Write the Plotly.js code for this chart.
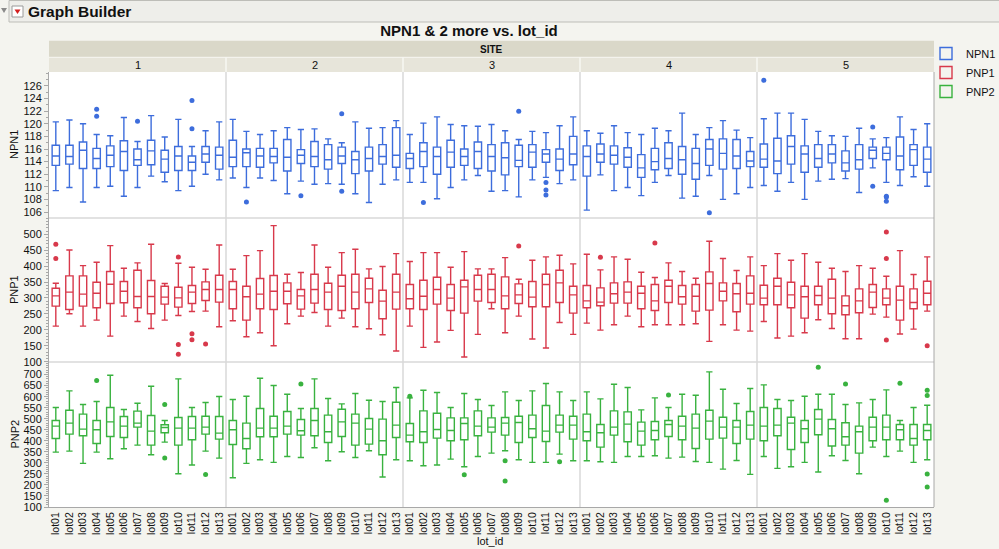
<!DOCTYPE html>
<html><head><meta charset="utf-8">
<script src="https://cdn.plot.ly/plotly-3.0.1.min.js"></script>
<style>html,body{margin:0;padding:0;background:#f4f4ef;} #chart{width:999px;height:549px;}</style>
</head><body><div id="chart"></div>
<script>
const lots = ['lot01','lot02','lot03','lot04','lot05','lot06','lot07','lot08','lot09','lot10','lot11','lot12','lot13'];
const sites = ['1','2','3','4','5'];
const variables = ['NPN1','PNP1','PNP2'];
const colors = ['#3d6ddc','#d8394b','#39b23f'];
const NPN1_ticks = [106,108,110,112,114,116,118,120,122,124,126];
const PNP1_ticks = [100,150,200,250,300,350,400,450,500];
const PNP2_ticks = [100,150,200,250,300,350,400,450,500,550,600,650,700];

// ---- NPN1 (rows = site 1..5, columns = lot01..lot13)
const NPN1_hi = [
 [120.3,120.6,120.0,118.3,118.1,121.0,117.2,121.3,117.9,120.7,116.4,118.9,120.3],
 [120.7,118.8,118.3,118.9,119.4,119.1,119.2,117.6,117.0,120.3,119.3,119.4,120.5],
 [118.3,120.1,121.1,119.9,119.7,119.6,119.9,118.9,117.5,118.8,118.6,119.7,121.1],
 [118.9,118.5,119.7,118.6,118.3,119.3,118.9,121.7,118.3,119.4,120.5,119.0,117.8],
 [120.8,121.7,121.7,120.7,118.8,118.1,118.0,119.3,117.6,117.8,121.1,119.1,120.0]];
const NPN1_q3 = [
 [116.6,116.6,117.1,116.1,116.5,117.3,116.0,117.4,115.8,116.4,114.9,116.4,116.3],
 [117.4,116.0,116.1,116.1,117.5,115.9,117.2,116.7,116.3,115.6,116.3,116.7,119.4],
 [115.3,117.0,116.3,117.4,116.0,117.1,116.7,117.0,116.6,116.7,115.9,116.0,118.0],
 [116.5,116.8,116.5,116.2,115.1,116.1,117.0,116.4,116.1,117.5,117.6,117.5,115.6],
 [116.8,117.7,118.1,116.5,116.7,116.7,115.7,116.7,116.3,116.3,117.9,116.7,116.3]];
const NPN1_med = [
 [114.9,114.8,115.8,114.5,115.0,115.6,114.3,115.7,114.4,114.9,113.9,115.2,115.0],
 [114.7,115.4,114.9,114.8,114.7,115.0,114.8,114.3,114.9,114.3,114.5,114.8,115.0],
 [114.5,115.6,114.8,115.5,114.8,115.6,114.8,114.6,114.2,115.5,115.2,114.4,115.2],
 [114.8,115.2,115.0,114.7,113.0,114.0,114.5,114.3,113.7,116.0,115.3,114.9,114.1],
 [114.4,114.1,116.4,115.2,114.5,115.2,113.8,114.3,115.8,115.3,114.9,115.9,114.4]];
const NPN1_q1 = [
 [113.4,113.6,112.9,112.9,113.2,112.6,113.4,113.5,112.3,112.6,112.6,113.9,112.8],
 [113.2,113.2,113.1,113.8,112.5,113.7,113.2,112.8,113.7,112.1,112.5,113.6,113.1],
 [112.9,113.2,112.0,113.1,113.4,112.9,112.5,111.9,113.2,113.1,113.9,112.6,113.5],
 [111.7,113.9,113.6,113.1,111.5,112.7,112.9,112.0,111.2,113.4,112.8,112.9,113.2],
 [113.1,112.1,113.6,112.3,113.1,113.8,112.5,112.8,114.5,114.3,112.7,113.4,112.3]];
const NPN1_lo = [
 [109.4,109.9,107.6,109.9,110.1,108.5,109.9,111.7,110.8,109.4,110.1,112.0,111.1],
 [111.4,109.9,111.4,111.0,108.9,110.9,110.4,110.5,110.4,108.9,107.5,110.4,111.1],
 [110.7,110.7,108.1,109.9,111.1,111.8,109.3,109.4,108.4,111.1,111.5,110.5,111.1],
 [106.3,111.9,109.4,109.9,108.6,110.7,111.8,108.2,108.5,111.8,108.0,108.9,109.9],
 [110.2,109.3,110.7,108.0,110.9,111.2,111.3,109.1,113.0,110.7,110.2,111.6,110.1]];
const NPN1_out_site = [1,1,1,1,1,2,2,2,2,3,3,3,3,3,4,5,5,5,5,5,5];
const NPN1_out_lot  = ['lot04','lot04','lot07','lot11','lot11','lot02','lot06','lot09','lot09','lot02','lot09','lot11','lot11','lot11','lot10','lot01','lot09','lot09','lot10','lot10','lot10'];
const NPN1_out_val  = [122.3,121.2,120.4,123.7,119.2,107.6,108.6,121.6,109.3,107.5,122.0,110.7,109.5,108.7,105.9,126.9,119.5,110.1,108.5,108.4,107.7];

// ---- PNP1
const PNP1_hi = [
 [346.5,450.9,401.8,412.3,464.5,393.5,410.2,468.7,345.4,409.1,396.6,390.3,466.6],
 [390.3,433.2,448.8,527.2,374.7,379.9,466.6,396.6,442.6,453.0,391.4,398.7,439.4],
 [414.4,442.6,442.6,396.6,445.7,391.4,391.4,426.9,359.0,418.5,429.0,434.2,407.0],
 [437.3,388.3,429.0,421.7,380.9,364.2,410.2,383.0,362.1,478.1,423.8,386.2,429.0],
 [401.8,439.4,418.5,439.4,412.3,393.5,383.0,401.8,393.5,368.4,448.8,373.6,429.0]];
const PNP1_q3 = [
 [330.8,369.5,369.5,349.6,383.0,351.7,387.2,354.8,337.1,333.9,339.2,350.7,371.5],
 [351.7,337.1,361.1,370.5,347.5,326.6,374.7,346.5,371.5,374.7,362.1,324.5,374.7],
 [342.3,355.9,365.3,342.3,355.9,371.5,374.7,366.3,344.4,351.7,374.7,387.2,337.1],
 [339.2,331.9,347.5,350.7,337.1,342.3,355.9,339.2,342.3,382.0,347.5,345.4,369.5],
 [340.2,362.1,349.6,337.1,337.1,359.0,306.8,328.7,342.3,328.7,337.1,328.7,352.7]];
const PNP1_med = [
 [306.8,318.3,312.0,315.1,343.3,321.4,304.7,304.7,302.6,300.5,318.3,326.6,326.6],
 [326.6,303.7,312.0,321.4,321.4,306.8,326.6,318.3,337.1,318.3,328.7,290.1,318.3],
 [297.4,305.7,326.6,299.5,335.0,326.6,326.6,306.8,309.9,302.6,342.3,347.5,309.9],
 [291.1,286.9,313.1,318.3,315.1,291.1,337.1,303.7,305.7,345.4,321.4,313.1,315.1],
 [299.5,337.1,309.9,303.7,307.8,299.5,275.5,291.1,318.3,299.5,293.2,285.9,315.1]];
const PNP1_q1 = [
 [274.4,264.0,274.4,269.2,282.8,284.9,269.2,250.4,280.7,271.3,282.8,292.2,286.9],
 [266.1,230.5,266.1,264.0,281.7,265.0,283.8,264.0,260.8,266.1,285.9,234.7,265.0],
 [266.1,264.0,280.7,260.8,252.5,290.1,285.9,266.1,282.8,272.3,272.3,285.9,252.5],
 [269.2,275.5,283.8,283.8,266.1,260.8,285.9,280.7,258.7,261.9,291.1,256.7,280.7],
 [278.6,278.6,269.2,236.8,278.6,250.4,247.3,253.5,270.2,278.6,230.5,266.1,278.6]];
const PNP1_lo = [
 [211.7,250.4,211.7,230.5,180.4,243.1,226.4,204.4,230.5,245.2,257.7,258.7,209.7],
 [228.5,178.3,190.9,150.1,219.1,243.1,254.6,211.7,236.8,209.7,203.4,184.6,133.4],
 [211.7,144.9,161.6,198.2,114.6,185.6,266.1,190.9,243.1,171.0,142.8,223.2,185.6],
 [221.2,199.2,215.9,243.1,209.7,215.9,215.9,215.9,219.1,163.7,215.9,199.2,196.1],
 [226.4,174.2,180.4,190.9,231.6,204.4,172.1,172.1,249.4,240.0,186.7,202.3,258.7]];
const PNP1_out_site = [1,1,1,1,1,1,1,1,3,4,4,5,5,5,5];
const PNP1_out_lot  = ['lot01','lot01','lot10','lot10','lot10','lot11','lot11','lot12','lot09','lot02','lot06','lot10','lot10','lot10','lot13'];
const PNP1_out_val  = [468.7,423.8,429.0,154.3,123.0,187.7,168.9,155.4,463.4,427.9,472.8,507.3,423.8,167.9,150.1];

// ---- PNP2
const PNP2_hi = [
 [550.7,626.1,564.3,577.9,697.0,541.7,570.3,647.2,491.9,680.4,550.7,573.4,600.5],
 [586.9,602.0,683.4,650.2,611.0,546.2,680.4,591.4,567.3,614.1,583.9,577.9,641.2],
 [594.5,629.1,618.6,550.7,614.1,586.9,559.8,621.6,582.4,626.1,659.3,621.6,582.4],
 [621.6,589.9,656.3,641.2,540.2,594.5,550.7,611.0,606.5,712.1,633.7,568.8,636.7],
 [653.3,586.9,582.4,602.0,611.0,611.0,564.3,571.9,586.9,630.6,491.9,550.7,561.3]];
const PNP2_q3 = [
 [491.9,538.7,520.6,491.9,550.7,510.0,534.2,514.6,472.4,505.5,510.0,511.5,510.0],
 [491.9,479.9,546.2,511.5,532.7,496.5,546.2,516.1,543.2,520.6,501.0,498.0,574.9],
 [478.4,535.7,525.1,504.0,504.0,535.7,504.0,505.5,511.5,516.1,559.8,516.1,511.5],
 [520.6,473.9,535.7,531.1,484.4,487.4,491.9,511.5,520.6,538.7,507.0,491.9,532.7],
 [550.7,546.2,507.0,491.9,541.7,496.5,481.4,466.3,507.0,516.1,473.9,473.9,473.9]];
const PNP2_med = [
 [466.3,479.9,452.8,449.7,485.9,466.3,479.9,443.7,460.3,457.3,457.3,461.8,434.7],
 [449.7,410.5,457.3,457.3,466.3,445.2,491.9,440.7,485.9,479.9,452.8,400.0,470.8],
 [425.6,440.7,451.2,446.7,478.4,466.3,461.8,479.9,482.9,454.3,443.7,470.8,470.8],
 [440.7,436.2,461.8,475.4,443.7,446.7,473.9,466.3,457.3,488.9,461.8,461.8,470.8],
 [466.3,470.8,479.9,454.3,498.0,454.3,418.1,440.7,461.8,461.8,449.7,410.5,446.7]];
const PNP2_q1 = [
 [410.5,430.1,422.6,387.9,419.6,415.1,461.8,380.4,436.2,380.4,404.5,430.1,407.5],
 [383.4,363.8,418.1,418.1,430.1,425.6,422.6,392.5,419.6,380.4,384.9,336.7,415.1],
 [395.5,392.5,412.0,400.0,404.5,422.6,439.2,425.6,392.5,415.1,397.0,439.2,407.5],
 [400.0,371.3,425.6,395.5,380.4,404.5,419.6,404.5,365.3,407.5,412.0,387.9,407.5],
 [400.0,422.6,360.8,392.5,427.1,376.1,380.4,344.2,400.0,404.5,404.5,380.4,404.5]];
const PNP2_lo = [
 [348.7,353.2,297.5,348.7,318.6,363.8,380.4,336.7,394.0,250.7,290.0,353.2,321.6],
 [232.6,297.5,314.1,302.0,329.1,324.6,368.3,309.5,350.2,324.6,354.8,235.7,314.1],
 [309.5,286.9,290.0,317.1,282.4,329.1,344.2,354.8,314.1,302.0,302.0,339.7,309.5],
 [309.5,305.0,302.0,329.1,329.1,332.1,321.6,326.1,306.5,302.0,271.8,311.0,247.7],
 [329.1,274.9,282.4,302.0,258.3,332.1,311.0,250.7,371.3,329.1,353.2,302.0,314.1]];
const PNP2_out_site = [1,1,1,1,2,3,3,3,3,3,4,5,5,5,5,5,5,5,5];
const PNP2_out_lot  = ['lot04','lot09','lot09','lot12','lot06','lot01','lot05','lot08','lot08','lot12','lot07','lot05','lot07','lot10','lot11','lot13','lot13','lot13','lot13'];
const PNP2_out_val  = [672.9,564.3,321.6,247.7,657.8,602.0,246.2,309.5,217.6,305.0,608.0,733.2,657.8,130.1,660.8,629.1,605.0,249.2,190.4];

const stats = {
  NPN1:{hi:NPN1_hi,q3:NPN1_q3,med:NPN1_med,q1:NPN1_q1,lo:NPN1_lo,os:NPN1_out_site,ol:NPN1_out_lot,ov:NPN1_out_val,ticks:NPN1_ticks},
  PNP1:{hi:PNP1_hi,q3:PNP1_q3,med:PNP1_med,q1:PNP1_q1,lo:PNP1_lo,os:PNP1_out_site,ol:PNP1_out_lot,ov:PNP1_out_val,ticks:PNP1_ticks},
  PNP2:{hi:PNP2_hi,q3:PNP2_q3,med:PNP2_med,q1:PNP2_q1,lo:PNP2_lo,os:PNP2_out_site,ol:PNP2_out_lot,ov:PNP2_out_val,ticks:PNP2_ticks}
};

const traces = [];
variables.forEach((v, vi) => {
  const st = stats[v];
  const ya = vi === 0 ? 'y' : 'y' + (vi + 1);
  sites.forEach((s, si) => {
    const xa = si === 0 ? 'x' : 'x' + (si + 1);
    traces.push({
      type: 'box', name: v, legendgroup: v, showlegend: si === 0,
      x: lots, q1: st.q1[si], median: st.med[si], q3: st.q3[si],
      lowerfence: st.lo[si], upperfence: st.hi[si],
      xaxis: xa, yaxis: ya, width: 0.54, whiskerwidth: 0.85,
      line: {color: colors[vi], width: 1.4}, fillcolor: 'rgba(255,255,255,0)',
      boxpoints: false, hoverinfo: 'skip'
    });
    const ox = [], oy = [];
    st.os.forEach((site, k) => { if (site === si + 1) { ox.push(st.ol[k]); oy.push(st.ov[k]); } });
    traces.push({
      type: 'scatter', mode: 'markers', x: ox, y: oy, xaxis: xa, yaxis: ya,
      showlegend: false, legendgroup: v, hoverinfo: 'skip',
      marker: {color: colors[vi], size: 5}
    });
  });
});

// pixel helpers for decorations (plot area: x 49..934, y 72..507)
const PL = 49, PR = 934, PT = 72, PB = 507;
const px = x => (x - PL) / (PR - PL);
const py = y => (PB - y) / (PB - PT);

const font = 'Liberation Sans, Arial, sans-serif';
const gridC = '#d9d9d9';
const axC = '#a8a8a8';

const layout = {
  width: 999, height: 549,
  margin: {l: PL, r: 999 - PR, t: PT, b: 549 - PB, pad: 0, autoexpand: false},
  paper_bgcolor: '#f4f4ef', plot_bgcolor: '#ffffff',
  font: {family: font, size: 11, color: '#111'},
  showlegend: true,
  legend: {x: px(926), y: py(39), xanchor: 'left', yanchor: 'top', bgcolor: 'rgba(0,0,0,0)',
           font: {size: 11, color: '#111'}, tracegroupgap: 0, itemwidth: 30},
  title: {text: '<b>NPN1 & 2 more vs. lot_id</b>', x: 469 / 999, xanchor: 'center', y: 1 - 31 / 549, yanchor: 'middle',
          font: {size: 15, family: font, color: '#111'}},
  shapes: [], annotations: []
};

const rowDom = [[py(218), 1], [py(362), py(218)], [0, py(362)]];
const yRanges = [[105.05, 128.22], [99.0, 551.2], [100, 757]];
const yMinor = [1, 10, 10];
variables.forEach((v, vi) => {
  const key = vi === 0 ? 'yaxis' : 'yaxis' + (vi + 1);
  layout[key] = {
    domain: rowDom[vi], anchor: 'x', range: yRanges[vi], tickmode: 'array', tickvals: stats[v].ticks,
    showgrid: false, zeroline: false, showline: true, linecolor: axC, linewidth: 1,
    ticks: 'outside', ticklen: 4, tickcolor: axC, tickfont: {size: 11, color: '#111'},
    minor: {ticks: 'outside', ticklen: 2, dtick: yMinor[vi], tick0: 0, tickcolor: axC, showgrid: false}
  };
});
sites.forEach((s, si) => {
  const key = si === 0 ? 'xaxis' : 'xaxis' + (si + 1);
  layout[key] = {
    domain: [si / 5, (si + 1) / 5], anchor: 'y3', type: 'category', categoryorder: 'array', categoryarray: lots,
    range: [-0.5, 12.5], showgrid: false, zeroline: false, showline: true, linecolor: axC, linewidth: 1,
    ticks: '', tickangle: -90, tickfont: {size: 10.5, color: '#111'}
  };
});

const S = layout.shapes, A = layout.annotations;
const ann = o => A.push(Object.assign({xref: 'paper', yref: 'paper', showarrow: false, xanchor: 'center', yanchor: 'middle'}, o));
// header bar "Graph Builder"
S.push({type: 'rect', xref: 'paper', yref: 'paper', x0: px(9), x1: px(1002), y0: py(22), y1: py(0.5), fillcolor: '#eeeeea', line: {color: '#bdbdb8', width: 1}, layer: 'below'});
S.push({type: 'path', xref: 'paper', yref: 'paper', path: `M ${px(1)} ${py(8)} L ${px(7)} ${py(8)} L ${px(4)} ${py(13)} Z`, fillcolor: '#8a8a8a', line: {width: 0}});
S.push({type: 'rect', xref: 'paper', yref: 'paper', x0: px(12), x1: px(23), y0: py(17), y1: py(6), fillcolor: '#ffffff', line: {color: '#9a9a9a', width: 1}});
S.push({type: 'path', xref: 'paper', yref: 'paper', path: `M ${px(14.5)} ${py(9.5)} L ${px(20.5)} ${py(9.5)} L ${px(17.5)} ${py(14)} Z`, fillcolor: '#d42020', line: {width: 0}});
ann({x: px(26), y: py(11.5), xanchor: 'left', text: '<b>Graph Builder</b>', font: {size: 15.5, family: font, color: '#111'}});
// SITE band and site numbers band
S.push({type: 'rect', xref: 'paper', yref: 'paper', x0: 0, x1: 1, y0: py(57.3), y1: py(40.7), fillcolor: '#dad8c9', line: {width: 0}});
S.push({type: 'rect', xref: 'paper', yref: 'paper', x0: 0, x1: 1, y0: py(72), y1: py(57.3), fillcolor: '#e7e5da', line: {width: 0}});
S.push({type: 'line', xref: 'paper', yref: 'paper', x0: 0, x1: 1, y0: py(57.3), y1: py(57.3), line: {color: '#f7f7f2', width: 1}});
ann({x: 0.5, y: py(49.5), text: '<b>SITE</b>', font: {size: 10, family: font, color: '#111'}});
sites.forEach((s, si) => {
  ann({x: (si + 0.5) / 5, y: py(65), text: s, font: {size: 11, family: font, color: '#111'}});
  if (si > 0) {
    S.push({type: 'line', xref: 'paper', yref: 'paper', x0: si / 5, x1: si / 5, y0: py(72), y1: py(57.3), line: {color: '#f7f7f2', width: 1.5}});
    S.push({type: 'line', xref: 'paper', yref: 'paper', x0: si / 5, x1: si / 5, y0: 0, y1: 1, line: {color: gridC, width: 1.5}, layer: 'above'});
  }
});
// row separators and frame
S.push({type: 'line', xref: 'paper', yref: 'paper', x0: 0, x1: 1, y0: py(218), y1: py(218), line: {color: gridC, width: 1.5}});
S.push({type: 'line', xref: 'paper', yref: 'paper', x0: 0, x1: 1, y0: py(362), y1: py(362), line: {color: gridC, width: 1.5}});
S.push({type: 'line', xref: 'paper', yref: 'paper', x0: 1, x1: 1, y0: 0, y1: 1, line: {color: axC, width: 1}});
// axis titles
const rowMid = [145, 290, 434.5];
variables.forEach((v, vi) => {
  ann({x: px(14), y: py(rowMid[vi]), textangle: -90, text: v, font: {size: 11, family: font, color: '#111'}});
});
ann({x: px(490), y: py(541), text: 'lot_id', font: {size: 11, family: font, color: '#111'}});

Plotly.newPlot('chart', traces, layout, {displayModeBar: false, staticPlot: true});
</script>
</body></html>
